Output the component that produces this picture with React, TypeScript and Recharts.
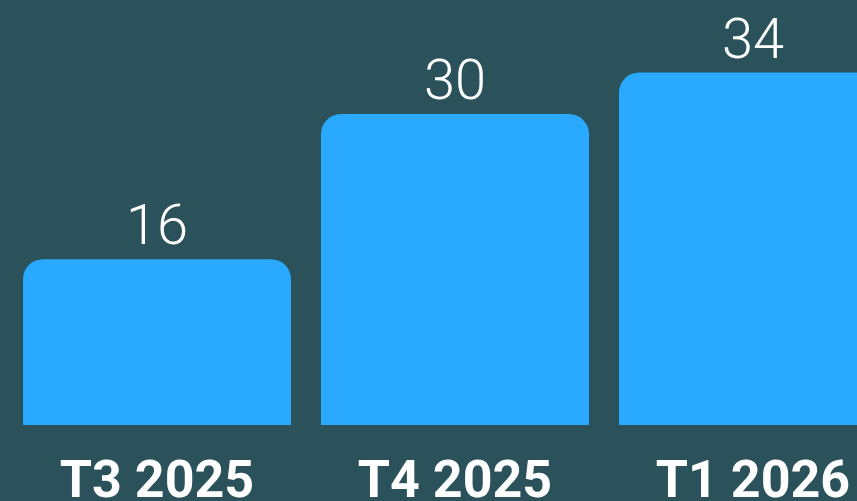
import React from "react";
import { BarChart, Bar, XAxis, YAxis, LabelList } from "recharts";

const categories = ["T3 2025", "T4 2025", "T1 2026"];
const values = [16, 30, 34];

const data = categories.map((c, i) => ({ name: c, value: values[i] }));

export default function App() {
  return (
    <div
      style={{
        position: "absolute",
        left: 0,
        top: 0,
        width: 857,
        height: 501,
        overflow: "hidden",
        background: "#2B525B",
      }}
    >
      <BarChart
        width={902}
        height={501}
        data={data}
        margin={{ top: 0, right: 0, left: 8, bottom: 0 }}
      >
        <YAxis hide domain={[0, 41]} />
        <XAxis
          dataKey="name"
          height={76}
          axisLine={false}
          tickLine={false}
          tickSize={0}
          tickMargin={35}
          interval={0}
          tick={{
            fill: "#FFFFFF",
            fontSize: 52,
            fontWeight: 700,
            fontFamily: "Roboto, 'Liberation Sans', sans-serif",
          }}
        />
        <Bar
          dataKey="value"
          fill="#29A9FF"
          barSize={268}
          radius={[20, 20, 0, 0]}
          isAnimationActive={false}
        >
          <LabelList
            dataKey="value"
            position="top"
            offset={15}
            fill="#FFFFFF"
            fontSize={56}
            fontWeight={300}
            fontFamily="Roboto, 'Liberation Sans', sans-serif"
          />
        </Bar>
      </BarChart>
    </div>
  );
}
